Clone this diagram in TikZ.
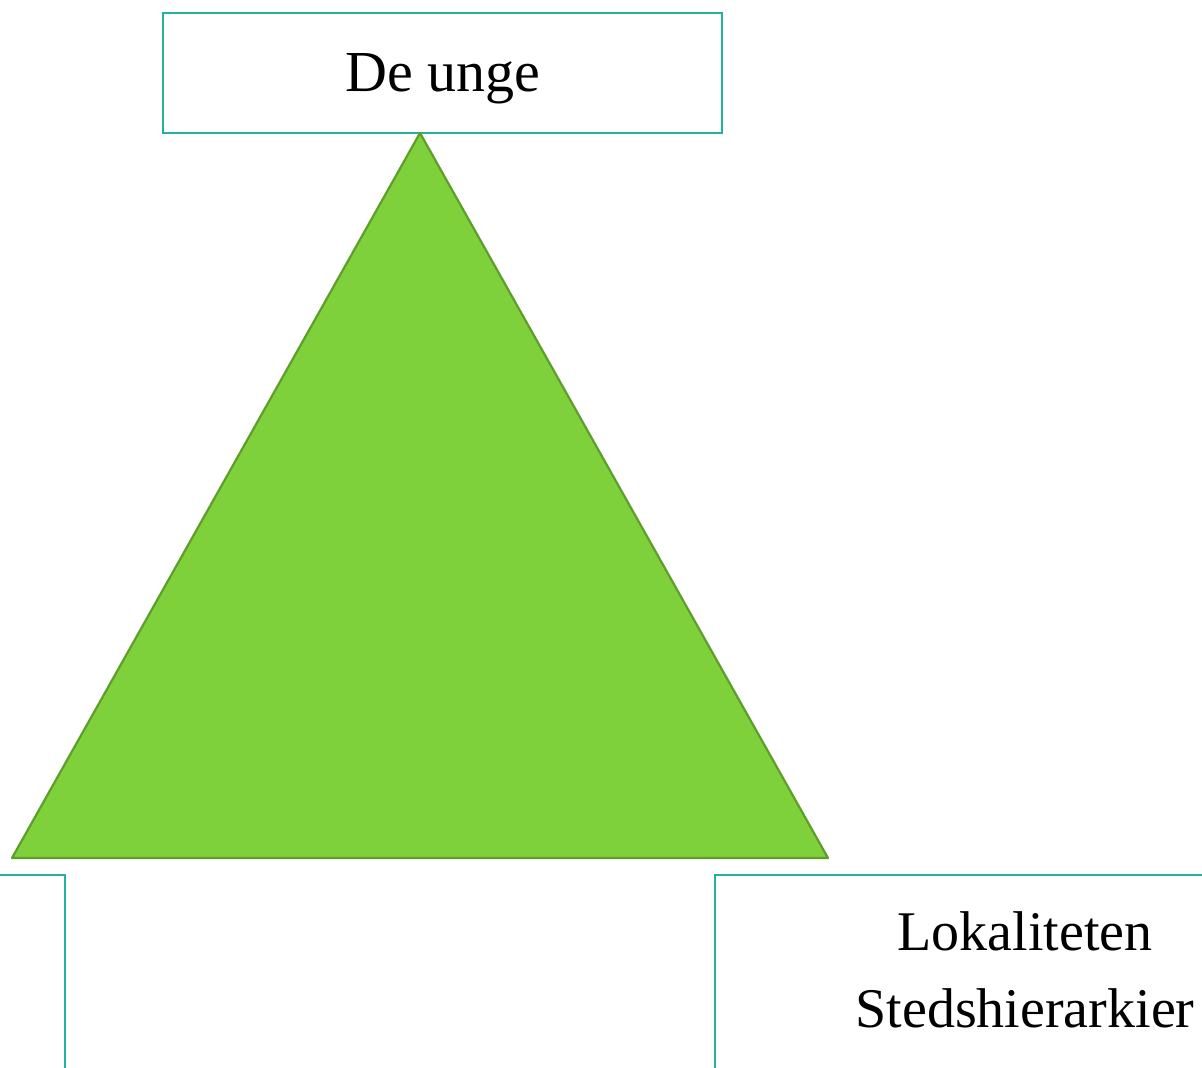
\documentclass[tikz,border=0pt]{standalone}
\usepackage{fontspec}
\setmainfont{Liberation Serif}
\definecolor{tealline}{HTML}{20B4A0}
\definecolor{trifill}{HTML}{7FD13B}
\definecolor{triline}{HTML}{5E9E2A}
\begin{document}
\begin{tikzpicture}[x=1pt,y=-1pt,
  boxstyle/.style={draw=tealline,line width=2.5pt,fill=white},
  labelstyle/.style={inner sep=0pt,align=center,text=black}]
\clip (0,0) rectangle (1202,1068);
\fill[white] (0,0) rectangle (1202,1068);
% top box
\draw[boxstyle] (163,13) rectangle (722,133);
\node[labelstyle,font=\fontsize{58}{70}\selectfont,anchor=base] (top) at (443,91) {De unge};
% triangle
\coordinate (apex) at (420,133);
\coordinate (bl) at (12,858);
\coordinate (br) at (828,858);
\draw[fill=trifill,draw=triline,line width=2.2pt,line join=round] (apex) -- (br) -- (bl) -- cycle;
% bottom boxes
\draw[boxstyle] (-500,875) rectangle (65,1200);
\draw[boxstyle] (715,875) rectangle (1340,1200);
\node[labelstyle,font=\fontsize{56}{77}\selectfont,anchor=base] (loc) at (1025,950) {Lokaliteten};
\node[labelstyle,font=\fontsize{56}{77}\selectfont,anchor=base] (sted) at (1025,1027) {Stedshierarkier};
\end{tikzpicture}
\end{document}
